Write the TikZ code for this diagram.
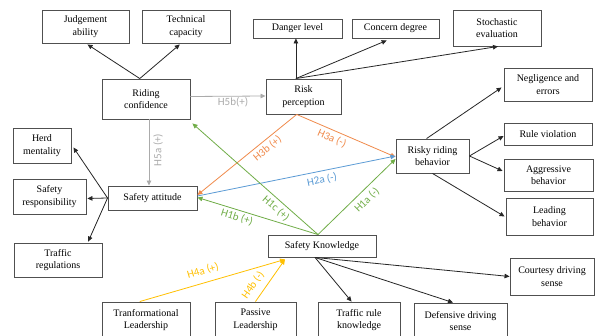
\documentclass[tikz,border=0pt]{standalone}
\usepackage{fontspec}
\setmainfont{Liberation Serif}
\newfontfamily\lblfont{Carlito}
\usetikzlibrary{arrows.meta,calc}
\definecolor{boxline}{HTML}{505050}
\definecolor{arrgray}{HTML}{ABABAB}
\definecolor{arrorange}{HTML}{F08A4B}
\definecolor{arrgreen}{HTML}{70AD47}
\definecolor{arrblue}{HTML}{5B9BD5}
\definecolor{arryellow}{HTML}{FFC000}
\begin{document}
\begin{tikzpicture}[x=1pt,y=-1pt,
  box/.style={draw=boxline, line width=0.9pt, align=center, inner sep=1pt,
    font=\fontsize{10}{12.5}\selectfont},
  tip/.style={-{Triangle[length=5pt,width=4.5pt]}},
  blk/.style={tip, draw=black!85, line width=0.8pt},
  garr/.style={tip, draw=arrgray, line width=0.8pt},
  oarr/.style={tip, draw=arrorange, line width=0.8pt},
  grarr/.style={tip, draw=arrgreen, line width=0.8pt},
  barr/.style={tip, draw=arrblue, line width=0.8pt},
  yarr/.style={tip, draw=arryellow, line width=0.8pt},
  lbl/.style={font=\lblfont\fontsize{11}{12}\selectfont, inner sep=0pt}
]
\useasboundingbox (0,0) rectangle (595,336);
\clip (0,0) rectangle (595,336);
\fill[white] (0,0) rectangle (595,336);

% boxes
\node[box, minimum width=87pt, minimum height=33pt] (judg) at (85.5,26.5) {Judgement\\ability};
\node[box, minimum width=88pt, minimum height=33pt] (tech) at (186,26.5) {Technical\\capacity};
\node[box, minimum width=88pt, minimum height=40pt] (ride) at (146,99) {Riding\\confidence};
\node[box, minimum width=75pt, minimum height=35pt] (risk) at (303.5,96.5) {Risk\\perception};
\node[box, minimum width=89pt, minimum height=19pt] (danger) at (297.5,28.5) {Danger level};
\node[box, minimum width=87pt, minimum height=19pt] (concern) at (395.5,28.5) {Concern degree};
\node[box, minimum width=88pt, minimum height=36pt] (stoch) at (497,28) {Stochastic\\evaluation};
\node[box, minimum width=88pt, minimum height=33pt] (negl) at (548,84.5) {Negligence and\\errors};
\node[box, minimum width=88pt, minimum height=22pt] (rule) at (548,134) {Rule violation};
\node[box, minimum width=73pt, minimum height=34pt] (risky) at (432.5,156) {Risky riding\\behavior};
\node[box, minimum width=89pt, minimum height=32pt] (aggr) at (548.5,175) {Aggressive\\behavior};
\node[box, minimum width=87pt, minimum height=37pt] (lead) at (549.5,216.5) {Leading\\behavior};
\node[box, minimum width=108pt, minimum height=22pt] (know) at (322,246) {Safety Knowledge};
\node[box, minimum width=84pt, minimum height=37pt] (court) at (552,276.5) {Courtesy driving\\sense};
\node[box, minimum width=82pt, minimum height=36pt] (trk) at (359,320) {Traffic rule\\knowledge};
\node[box, minimum width=93pt, minimum height=36pt] (def) at (460.5,321) {Defensive driving\\sense};
\node[box, minimum width=88pt, minimum height=36pt] (trans) at (146,320) {Tranformational\\Leadership};
\node[box, minimum width=81pt, minimum height=36pt] (pass) at (255.5,320) {Passive\\Leadership};
\node[box, minimum width=89pt, minimum height=24pt] (att) at (152.5,198) {Safety attitude};
\node[box, minimum width=58pt, minimum height=35pt] (herd) at (42,145.5) {Herd\\mentality};
\node[box, minimum width=73pt, minimum height=35pt] (resp) at (49.5,196.5) {Safety\\responsibility};
\node[box, minimum width=88pt, minimum height=34pt] (treg) at (58,260) {Traffic\\regulations};

% riding confidence indicators
\coordinate (rideTop) at ($(ride.north west)!0.43!(ride.north east)$);
\draw[blk] (rideTop) -- ($(judg.south)+(2,1)$);
\draw[blk] (rideTop) -- ($(tech.south west)!0.43!(tech.south east)+(0,1)$);

% risk perception indicators
\coordinate (riskTop) at ($(risk.north west)!0.4!(risk.north east)$);
\draw[blk] (riskTop) -- (riskTop |- danger.south);
\draw[blk] (riskTop) -- ($(concern.south west)!0.4!(concern.south east)+(0,2)$);
\draw[blk] (riskTop) -- ($(stoch.south)+(1,0)$);

% risky riding behavior indicators
\draw[blk] ($(risky.north west)!0.42!(risky.north east)$) -- ($(negl.west)+(-2,3)$);
\draw[blk] (risky.east) -- ($(rule.west)+(0,2)$);
\draw[blk] (risky.east) -- ($(aggr.west)+(-1,-4)$);
\draw[blk] (risky.south) -- ($(lead.west)+(-1,0)$);

% safety attitude indicators
\draw[blk] (att.west) -- ($(herd.east)+(2,2)$);
\draw[blk] (att.west) -- ($(resp.east)+(1,2)$);
\draw[blk] (att.west) -- ($(treg.north west)!0.84!(treg.north east)+(0,-1)$);

% safety knowledge indicators
\coordinate (knowBot) at ($(know.south)+(-7,0)$);
\draw[blk] (knowBot) -- ($(trk.north west)!0.41!(trk.north east)$);
\draw[blk] (knowBot) -- ($(def.north west)!0.42!(def.north east)$);
\draw[blk] (knowBot) -- (court.west);

% hypotheses (connectors)
\draw[garr] ($(ride.east)+(0,-2.5)$) -- ($(risk.west)+(0,-0.5)$);
\draw[garr] ($(ride.south)+(3,0)$) -- ($(att.north)+(-3.5,0)$);

\coordinate (riskBot) at ($(risk.south west)!0.41!(risk.south east)$);
\draw[oarr] (riskBot) -- ($(risky.west)+(0,1)$);
\draw[oarr] (riskBot) -- ($(att.east)+(0,-3)$);

\draw[barr] ($(att.east)+(0,-2)$) -- (risky.west);

\coordinate (knowTop) at ($(know.north)+(-4,0)$);
\draw[grarr] (knowTop) -- ($(risky.west)+(0,3)$);
\draw[grarr] (knowTop) -- ($(att.east)+(0,-0.5)$);
\draw[grarr] (knowTop) -- ($(ride.south east)+(2,4)$);

\coordinate (knowIn) at ($(know.south west)!0.16!(know.south east)+(0,2)$);
\draw[yarr] ($(trans.north west)!0.43!(trans.north east)$) -- (knowIn);
\draw[yarr] (pass.north) -- (knowIn);

% hypothesis labels
\node[lbl, text=arrgray] (l5b) at (233,102.5) {H5b(+)};
\node[lbl, text=arrgray, rotate=90] (l5a) at (158,150) {H5a (+)};
\node[lbl, text=arrorange, rotate=39.4] (l3b) at (267.5,148.5) {H3b (+)};
\node[lbl, text=arrorange, rotate=-23.5] (l3a) at (332,138.5) {H3a (-)};
\node[lbl, text=arrblue, rotate=11.4] (l2a) at (322,180) {H2a (-)};
\node[lbl, text=arrgreen, rotate=-41.6] (l1c) at (276,208.3) {H1c (+)};
\node[lbl, text=arrgreen, rotate=-17.6] (l1b) at (237,217.5) {H1b (+)};
\node[lbl, text=arrgreen, rotate=44.6] (l1a) at (367,200) {H1a (-)};
\node[lbl, text=arryellow, rotate=16.5] (l4a) at (203,271) {H4a (+)};
\node[lbl, text=arryellow, rotate=55] (l4b) at (253,285) {H4b (-)};
\end{tikzpicture}
\end{document}
